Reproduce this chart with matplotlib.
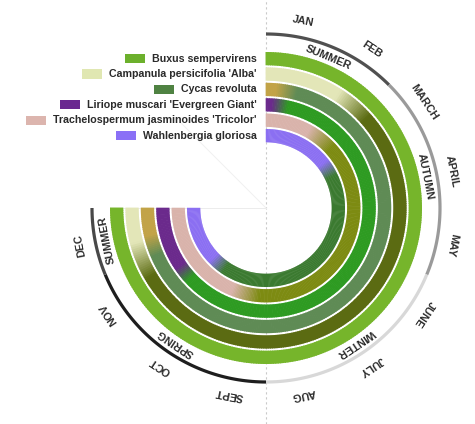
import numpy as np
import matplotlib
matplotlib.use('Agg')
import matplotlib.pyplot as plt
from matplotlib.colors import to_rgb
from matplotlib.patches import Rectangle
from matplotlib.lines import Line2D
from matplotlib.transforms import IdentityTransform

plt.rcParams['font.family'] = ['Liberation Sans', 'DejaVu Sans']

# ---------------- data ----------------
months = ['JAN', 'FEB', 'MARCH', 'APRIL', 'MAY', 'JUNE',
          'JULY', 'AUG', 'SEPT', 'OCT', 'NOV', 'DEC']
season_names = ['SUMMER', 'AUTUMN', 'WINTER', 'SPRING', 'SUMMER']
season_start = [0, 2, 5, 8, 11]      # month index where season starts
season_end = [2, 5, 8, 11, 12]
season_arc_colors = ['#505050', '#9a9a9a', '#d8d8d8', '#1e1e1e', '#484848']

plants = ['Buxus sempervirens',
          "Campanula persicifolia 'Alba'",
          'Cycas revoluta',
          "Liriope muscari 'Evergreen Giant'",
          "Trachelospermum jasminoides 'Tricolor'",
          'Wahlenbergia gloriosa']
legend_colors = ['#6cb02c', '#e0e7b2', '#4f8242', '#6a2890', '#dcb5ae', '#8a70f6']
foliage_colors = ['#76b52b', '#5b6b12', '#5f8b55', '#2e9b22', '#7d8b12', '#3b7a30']
flower_colors = ['#76b52b', '#e3e6b8', '#c2a347', '#6b2a8c', '#d9b3ab', '#8b6ff2']
# flowering window in months (wraps over the year end)
flower_start = [None, 11.0, 11.2, 10.3, 8.6, 9.8]
flower_end = [None, 1.8, 0.45, 0.35, 1.7, 2.6]
blend_months = [0.6, 0.7, 0.45, 0.4, 0.8, 0.55]

# ---------------- layout ----------------
W, H = 475, 424
cx, cy = 266, 208          # centre in pixels (from top-left)
R = 200                    # radial limit in pixels
DEG_PER_MONTH = 270.0 / 12

fig = plt.figure(figsize=(W / 100, H / 100), dpi=100)
ax = fig.add_axes([(cx - R) / W, (H - cy - R) / H, 2 * R / W, 2 * R / H],
                  projection='polar')
ax.set_theta_zero_location('N')
ax.set_theta_direction(-1)
ax.set_ylim(0, R)
ax.set_xlim(0, 2 * np.pi)
ax.set_axis_off()

def th(m):
    return np.deg2rad(np.asarray(m) * DEG_PER_MONTH)

# faint grid lines
fig.add_artist(Line2D([cx / W, cx / W], [0, 1], color='#c9c9c9', lw=0.8,
                      ls=(0, (2, 2.5)), transform=fig.transFigure, zorder=0))
ax.plot([th(12), th(12)], [0, 150], color='#ececec', lw=0.7, zorder=0)
ax.plot([th(14), th(14)], [0, 120], color='#f0f0f0', lw=0.7, zorder=0)

# ---------------- rings ----------------
ring_outer0 = 156.0
ring_pitch = 15.4
ring_width = 13.3
step = 0.04
t = np.arange(0, 12, step) + step / 2

def flower_weight(tt, s, e, bw):
    if s is None:
        return np.zeros_like(tt)
    right = np.clip(0.5 + (e - tt) / bw, 0, 1)
    left = np.clip(0.5 + (tt - s) / bw, 0, 1)
    return np.maximum(right, left)

ring_centres = []
for i in range(len(plants)):
    outer = ring_outer0 - i * ring_pitch
    inner = outer - ring_width
    ring_centres.append((outer + inner) / 2)
    w = flower_weight(t, flower_start[i], flower_end[i], blend_months[i])
    fol = np.array(to_rgb(foliage_colors[i]))
    flw = np.array(to_rgb(flower_colors[i]))
    cols = (1 - w)[:, None] * fol + w[:, None] * flw
    ax.bar(th(t), ring_width, width=th(step) * 1.4, bottom=inner,
           color=cols, edgecolor='none', linewidth=0, align='center', zorder=2)

# ---------------- outer season arc ----------------
for s0, s1, c in zip(season_start, season_end, season_arc_colors):
    tt = np.linspace(s0, s1, 60)
    ax.plot(th(tt), np.full_like(tt, 174.0), color=c, lw=2.3,
            solid_capstyle='butt', zorder=3)

# ---------------- month labels ----------------
for k, m in enumerate(months):
    pos = k + 0.5
    ax.text(th(pos), 190, m, rotation=-pos * DEG_PER_MONTH,
            rotation_mode='anchor', ha='center', va='center',
            fontsize=7.8, fontweight='bold', color='#2b2b2b', zorder=5)

# ---------------- season labels ----------------
for s0, s1, name in zip(season_start, season_end, season_names):
    pos = (s0 + s1) / 2
    ax.text(th(pos), 162.5, name, rotation=-pos * DEG_PER_MONTH,
            rotation_mode='anchor', ha='center', va='center',
            fontsize=7.8, fontweight='bold', color='#2b2b2b', zorder=5)

# ---------------- legend ----------------
texts = []
for i, name in enumerate(plants):
    tx = ax.annotate(name, xy=(0, ring_centres[i]), xytext=(-6.6, 0),
                     textcoords='offset points', ha='right', va='center',
                     fontsize=7.7, fontweight='bold', color='#2a2a2a',
                     annotation_clip=False, zorder=6)
    texts.append(tx)

fig.canvas.draw()
renderer = fig.canvas.get_renderer()
for i, tx in enumerate(texts):
    bb = tx.get_window_extent(renderer)
    yc = (bb.y0 + bb.y1) / 2
    rect = Rectangle((bb.x0 - 7 - 20, yc - 4.6), 20, 9.2,
                     facecolor=legend_colors[i], edgecolor='none',
                     transform=IdentityTransform(), zorder=6)
    fig.add_artist(rect)

fig.savefig('out.png', dpi=100)
